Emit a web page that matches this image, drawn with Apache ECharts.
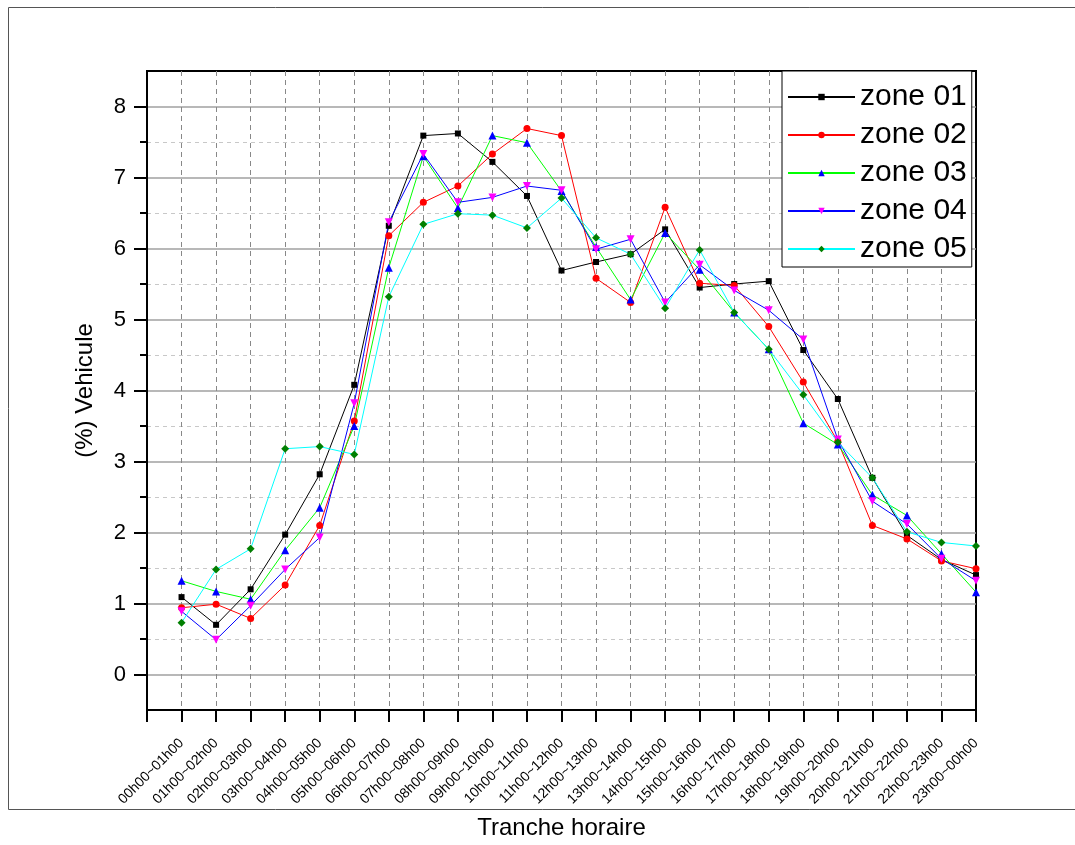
<!DOCTYPE html>
<html>
<head>
<meta charset="utf-8">
<script src="https://cdn.jsdelivr.net/npm/echarts@6/dist/echarts.min.js"></script>
<style>html,body{margin:0;padding:0;background:#fff;}#c{width:1075px;height:845px;}</style>
</head>
<body>
<div id="c"></div>
<script>
var categories = ['00h00~01h00','01h00~02h00','02h00~03h00','03h00~04h00','04h00~05h00','05h00~06h00',
  '06h00~07h00','07h00~08h00','08h00~09h00','09h00~10h00','10h00~11h00','11h00~12h00',
  '12h00~13h00','13h00~14h00','14h00~15h00','15h00~16h00','16h00~17h00','17h00~18h00',
  '18h00~19h00','19h00~20h00','20h00~21h00','21h00~22h00','22h00~23h00','23h00~00h00'];
var zone01 = [1.09,0.70,1.20,1.97,2.82,4.08,6.32,7.59,7.62,7.22,6.74,5.69,5.81,5.92,6.27,5.45,5.50,5.54,4.57,3.88,2.77,1.96,1.62,1.40];
var zone02 = [0.94,0.99,0.79,1.26,2.10,3.57,6.18,6.65,6.88,7.33,7.69,7.59,5.58,5.24,6.58,5.51,5.48,4.90,4.12,3.28,2.10,1.91,1.60,1.49];
var zone03 = [1.32,1.17,1.06,1.75,2.35,3.50,5.73,7.30,6.57,7.59,7.49,6.81,6.02,5.28,6.22,5.70,5.10,4.58,3.54,3.24,2.53,2.24,1.70,1.16];
var zone04 = [0.89,0.49,0.97,1.48,1.93,3.82,6.37,7.33,6.65,6.72,6.88,6.82,5.99,6.13,5.24,5.77,5.41,5.13,4.72,3.31,2.44,2.12,1.63,1.32];
var zone05 = [0.73,1.48,1.77,3.18,3.21,3.10,5.32,6.34,6.49,6.47,6.29,6.71,6.15,5.92,5.16,5.98,5.10,4.58,3.94,3.27,2.77,2.01,1.86,1.81];
var yMajorTicks = [0,1,2,3,4,5,6,7,8];
var yMinorTicks = [0.5,1.5,2.5,3.5,4.5,5.5,6.5,7.5];
var seriesNames = ['zone 01','zone 02','zone 03','zone 04','zone 05'];

function pts(arr){ return arr.map(function(v,i){ return [i+1, v]; }); }

var FONT = 'Liberation Sans, Arial, sans-serif';
var chart = echarts.init(document.getElementById('c'), null, {renderer:'canvas'});

function mkSeries(name, data, lineColor, markColor, symbol, size, rot){
  return {
    name: name, type: 'line', data: pts(data), xAxisIndex: 0, yAxisIndex: 0,
    symbol: symbol, symbolSize: size, symbolRotate: rot || 0,
    lineStyle: {color: lineColor, width: 1},
    itemStyle: {color: markColor, borderWidth: 0},
    emphasis: {disabled: true}, animation: false, z: 3
  };
}

var option = {
  animation: false,
  graphic: [{
    type: 'rect', shape: {x: 8.5, y: 7.5, width: 1100, height: 802},
    style: {fill: 'none', stroke: '#555', lineWidth: 1}, silent: true, z: -10
  }],
  grid: {left: 147, top: 71, right: 99, bottom: 132, show: true, borderColor: '#000', borderWidth: 2, backgroundColor: 'transparent'},
  legend: {
    orient: 'vertical', left: 782, top: 71,
    data: seriesNames,
    itemWidth: 67, itemHeight: 8, itemGap: 8,
    padding: [11, 5, 3, 5],
    borderColor: '#000', borderWidth: 1, backgroundColor: '#fff',
    textStyle: {fontFamily: FONT, fontSize: 30, color: '#000', lineHeight: 30},
    selectedMode: false
  },
  xAxis: [{
    type: 'value', min: 0, max: 24, interval: 1,
    name: 'Tranche horaire', nameLocation: 'middle', nameGap: 106,
    nameTextStyle: {fontFamily: FONT, fontSize: 24, color: '#000'},
    axisLine: {show: true, onZero: false, lineStyle: {color: '#000', width: 2}},
    axisTick: {show: true, inside: false, length: 12, lineStyle: {color: '#000', width: 2}},
    axisLabel: {
      rotate: 45, margin: 31, fontFamily: FONT, fontSize: 14, color: '#000',
      showMinLabel: true, showMaxLabel: true,
      formatter: function(v){ return (v >= 1 && v <= 24) ? categories[v-1] : ''; }
    },
    splitLine: {show: true, showMinLine: false, showMaxLine: false, lineStyle: {color: '#888', type: [5,4], width: 1}}
  }],
  yAxis: [{
    type: 'value', min: -0.5, max: 8.5, interval: 0.5, position: 'left',
    name: '(%) Vehicule', nameLocation: 'middle', nameGap: 50, nameRotate: 90,
    nameTextStyle: {fontFamily: FONT, fontSize: 24, color: '#000'},
    axisLine: {show: true, onZero: false, lineStyle: {color: '#000', width: 2}},
    axisTick: {show: true, length: 13, customValues: yMajorTicks, lineStyle: {color: '#000', width: 2}},
    axisLabel: {margin: 21, fontFamily: FONT, fontSize: 22, color: '#000', customValues: yMajorTicks},
    splitLine: {show: true, lineStyle: {color: '#a0a0a0', width: 1.5, type: 'solid'}}
  }, {
    type: 'value', min: -0.5, max: 8.5, interval: 0.5, position: 'left', offset: 0,
    axisLine: {show: false},
    axisTick: {show: true, length: 7, customValues: yMinorTicks, lineStyle: {color: '#000', width: 2}},
    axisLabel: {show: false},
    splitLine: {show: true, lineStyle: {color: '#c8c8c8', width: 1, type: [4,4]}}
  }],
  series: [
    mkSeries('zone 01', zone01, '#000000', '#000000', 'rect', 6),
    mkSeries('zone 02', zone02, '#ff0000', '#ff0000', 'circle', 7),
    mkSeries('zone 03', zone03, '#00ff00', '#0000ff', 'triangle', 8),
    mkSeries('zone 04', zone04, '#0000ff', '#ff00ff', 'triangle', 8, 180),
    mkSeries('zone 05', zone05, '#00ffff', '#007f00', 'diamond', 8)
  ]
};
chart.setOption(option);
</script>
</body>
</html>
